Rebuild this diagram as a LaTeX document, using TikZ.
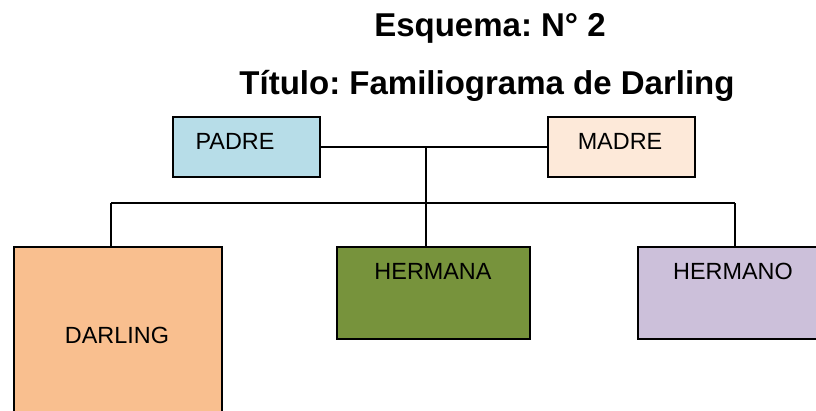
\documentclass[tikz,border=0pt]{standalone}
\usepackage{fontspec}
\setmainfont{Liberation Sans}
\usepackage{tikz}
\usetikzlibrary{calc}
\frenchspacing

\definecolor{cpadre}{HTML}{B7DDE8}
\definecolor{cmadre}{HTML}{FDE9D9}
\definecolor{cdarling}{HTML}{F9BF8F}
\definecolor{chermana}{HTML}{77933C}
\definecolor{chermano}{HTML}{CCC0DA}

\tikzset{
	caja/.style={draw=black, line width=2pt, rectangle, inner sep=0pt},
	nombre/.style={anchor=base, inner sep=0pt, font=\fontsize{23.4}{28}\selectfont},
	titulo/.style={anchor=base, inner sep=0pt, font=\fontsize{33}{40}\selectfont\bfseries},
	linea/.style={draw=black, line width=1.5pt}
}

\begin{document}
\begin{tikzpicture}[x=1pt,y=-1pt]
	\clip (0,0) rectangle (816,410);

	\node (T1) [titulo] at (490,36) {Esquema: N° 2};
	\node (T2) [titulo] at (487,94) {Título: Familiograma de Darling};

	\node (P) [caja, fill=cpadre, minimum width=147pt, minimum height=60pt] at (246.5,147) {};
	\node (M) [caja, fill=cmadre, minimum width=147pt, minimum height=60pt] at (621.5,147) {};
	\node (D) [caja, fill=cdarling, minimum width=208pt, minimum height=176pt] at (118,335) {};
	\node (A) [caja, fill=chermana, minimum width=193pt, minimum height=92pt] at (433.5,293) {};
	\node (O) [caja, fill=chermano, minimum width=190pt, minimum height=92pt] at (733,293) {};

	\node (p) [nombre] at (235,149.5) {PADRE};
	\node (m) [nombre] at (620,149.5) {MADRE};
	\node (d) [nombre] at (117,343.5) {DARLING};
	\node (a) [nombre] at (433,279.5) {HERMANA};
	\node (o) [nombre] at (733,279.5) {HERMANO};

	\coordinate (j) at (426,147);
	\coordinate (l) at (111,203);
	\coordinate (r) at (735,203);

	\draw [linea] (P.east) -- (M.west);
	\draw [linea] (j) -- (j |- A.north);
	\draw [linea] (l) -- (r);
	\draw [linea] (l) -- (l |- D.north);
	\draw [linea] (r) -- (r |- O.north);
\end{tikzpicture}
\end{document}
